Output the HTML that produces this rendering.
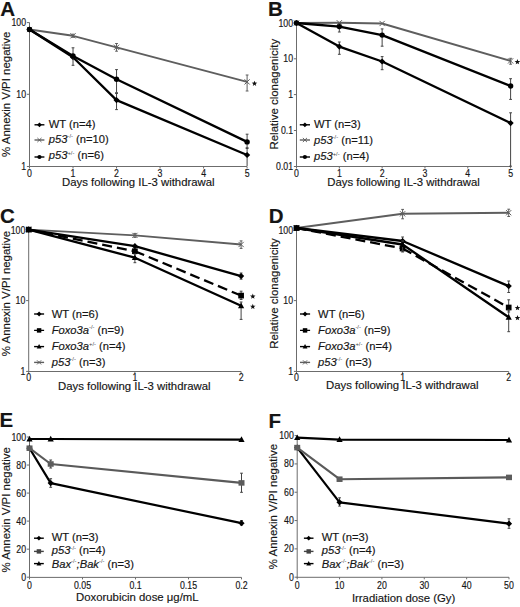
<!DOCTYPE html>
<html><head><meta charset="utf-8"><style>
html,body{margin:0;padding:0;background:#fff;width:520px;height:607px;overflow:hidden}
svg{display:block}
text{font-family:"Liberation Sans", sans-serif;fill:#151515;stroke:#151515;stroke-width:0.16px}
</style></head><body>
<svg width="520" height="607" viewBox="0 0 520 607">
<rect width="520" height="607" fill="#fff"/>
<text x="0.3" y="16" font-size="20.5" font-weight="bold">A</text>
<line x1="29.5" y1="22.5" x2="29.5" y2="167" stroke="#6c6c6c" stroke-width="1" />
<line x1="29" y1="166.5" x2="247.1" y2="166.5" stroke="#6c6c6c" stroke-width="1" />
<line x1="26.9" y1="22.6" x2="29.5" y2="22.6" stroke="#6c6c6c" stroke-width="1" />
<text transform="translate(26.1,26.1) scale(0.88,1)" font-size="10.0" text-anchor="end">100</text>
<line x1="26.9" y1="94.3" x2="29.5" y2="94.3" stroke="#6c6c6c" stroke-width="1" />
<text transform="translate(26.1,97.8) scale(0.88,1)" font-size="10.0" text-anchor="end">10</text>
<line x1="26.9" y1="166.5" x2="29.5" y2="166.5" stroke="#6c6c6c" stroke-width="1" />
<text transform="translate(26.1,170) scale(0.88,1)" font-size="10.0" text-anchor="end">1</text>
<line x1="29.5" y1="166.5" x2="29.5" y2="168.5" stroke="#6c6c6c" stroke-width="1" />
<text transform="translate(29.5,176.5) scale(0.88,1)" font-size="10.0" text-anchor="middle">0</text>
<line x1="73.02" y1="166.5" x2="73.02" y2="168.5" stroke="#6c6c6c" stroke-width="1" />
<text transform="translate(73.02,176.5) scale(0.88,1)" font-size="10.0" text-anchor="middle">1</text>
<line x1="116.54" y1="166.5" x2="116.54" y2="168.5" stroke="#6c6c6c" stroke-width="1" />
<text transform="translate(116.54,176.5) scale(0.88,1)" font-size="10.0" text-anchor="middle">2</text>
<line x1="160.06" y1="166.5" x2="160.06" y2="168.5" stroke="#6c6c6c" stroke-width="1" />
<text transform="translate(160.06,176.5) scale(0.88,1)" font-size="10.0" text-anchor="middle">3</text>
<line x1="203.58" y1="166.5" x2="203.58" y2="168.5" stroke="#6c6c6c" stroke-width="1" />
<text transform="translate(203.58,176.5) scale(0.88,1)" font-size="10.0" text-anchor="middle">4</text>
<line x1="247.1" y1="166.5" x2="247.1" y2="168.5" stroke="#6c6c6c" stroke-width="1" />
<text transform="translate(247.1,176.5) scale(0.88,1)" font-size="10.0" text-anchor="middle">5</text>
<text transform="translate(10.3,94.3) rotate(-90)" font-size="11.45" text-anchor="middle">% Annexin V/PI negative</text>
<text x="138.3" y="186" font-size="11.35" text-anchor="middle" >Days following IL-3 withdrawal</text>
<path d="M29.5 29.5 L73.02 35.8 L116.54 47.3 L247.1 81.9" fill="none" stroke="#5e5e5e" stroke-width="1.9" stroke-linejoin="round"/>
<line x1="73.02" y1="34.2" x2="73.02" y2="37.3" stroke="#5e5e5e" stroke-width="1" />
<line x1="71.62" y1="34.2" x2="74.42" y2="34.2" stroke="#5e5e5e" stroke-width="1" />
<line x1="71.62" y1="37.3" x2="74.42" y2="37.3" stroke="#5e5e5e" stroke-width="1" />
<line x1="116.54" y1="43.5" x2="116.54" y2="51.2" stroke="#5e5e5e" stroke-width="1" />
<line x1="115.14" y1="43.5" x2="117.94" y2="43.5" stroke="#5e5e5e" stroke-width="1" />
<line x1="115.14" y1="51.2" x2="117.94" y2="51.2" stroke="#5e5e5e" stroke-width="1" />
<line x1="247.1" y1="75" x2="247.1" y2="91" stroke="#5e5e5e" stroke-width="1" />
<line x1="245.7" y1="75" x2="248.5" y2="75" stroke="#5e5e5e" stroke-width="1" />
<line x1="245.7" y1="91" x2="248.5" y2="91" stroke="#5e5e5e" stroke-width="1" />
<path d="M26.9 26.9L32.1 32.1M32.1 26.9L26.9 32.1" stroke="#5e5e5e" stroke-width="1" fill="none"/>
<path d="M70.42 33.2L75.62 38.4M75.62 33.2L70.42 38.4" stroke="#5e5e5e" stroke-width="1" fill="none"/>
<path d="M113.94 44.7L119.14 49.9M119.14 44.7L113.94 49.9" stroke="#5e5e5e" stroke-width="1" fill="none"/>
<path d="M244.5 79.3L249.7 84.5M249.7 79.3L244.5 84.5" stroke="#5e5e5e" stroke-width="1" fill="none"/>
<path d="M29.5 29.5 L73.02 57.2 L116.54 100.1 L247.1 155" fill="none" stroke="#000" stroke-width="2.3" stroke-linejoin="round"/>
<line x1="116.54" y1="93.5" x2="116.54" y2="109.6" stroke="#444" stroke-width="1" />
<line x1="115.14" y1="93.5" x2="117.94" y2="93.5" stroke="#444" stroke-width="1" />
<line x1="115.14" y1="109.6" x2="117.94" y2="109.6" stroke="#444" stroke-width="1" />
<line x1="247.1" y1="148.5" x2="247.1" y2="166" stroke="#444" stroke-width="1" />
<line x1="245.7" y1="148.5" x2="248.5" y2="148.5" stroke="#444" stroke-width="1" />
<path d="M29.5 26.4L32.6 29.5L29.5 32.6L26.4 29.5Z" fill="#000"/>
<path d="M73.02 54.1L76.12 57.2L73.02 60.3L69.92 57.2Z" fill="#000"/>
<path d="M116.54 97L119.64 100.1L116.54 103.2L113.44 100.1Z" fill="#000"/>
<path d="M247.1 151.9L250.2 155L247.1 158.1L244 155Z" fill="#000"/>
<path d="M29.5 29.5 L73.02 56 L116.54 79.2 L247.1 141.9" fill="none" stroke="#000" stroke-width="2.3" stroke-linejoin="round"/>
<line x1="73.02" y1="47.8" x2="73.02" y2="65.3" stroke="#444" stroke-width="1" />
<line x1="71.62" y1="47.8" x2="74.42" y2="47.8" stroke="#444" stroke-width="1" />
<line x1="71.62" y1="65.3" x2="74.42" y2="65.3" stroke="#444" stroke-width="1" />
<line x1="116.54" y1="69.6" x2="116.54" y2="92.7" stroke="#444" stroke-width="1" />
<line x1="115.14" y1="69.6" x2="117.94" y2="69.6" stroke="#444" stroke-width="1" />
<line x1="115.14" y1="92.7" x2="117.94" y2="92.7" stroke="#444" stroke-width="1" />
<line x1="247.1" y1="134.2" x2="247.1" y2="147.7" stroke="#444" stroke-width="1" />
<line x1="245.7" y1="134.2" x2="248.5" y2="134.2" stroke="#444" stroke-width="1" />
<line x1="245.7" y1="147.7" x2="248.5" y2="147.7" stroke="#444" stroke-width="1" />
<circle cx="29.5" cy="29.5" r="2.7" fill="#000"/>
<circle cx="73.02" cy="56" r="2.7" fill="#000"/>
<circle cx="116.54" cy="79.2" r="2.7" fill="#000"/>
<circle cx="247.1" cy="141.9" r="2.7" fill="#000"/>
<polygon points="254.5,80.7 255.22,82.61 257.26,82.7 255.66,83.98 256.2,85.95 254.5,84.82 252.8,85.95 253.34,83.98 251.74,82.7 253.78,82.61" fill="#111"/>
<line x1="34.5" y1="124.8" x2="44.4" y2="124.8" stroke="#000" stroke-width="1.4"/>
<path d="M39.45 122.38L41.87 124.8L39.45 127.22L37.03 124.8Z" fill="#000"/>
<text x="48.8" y="127.8" font-size="11.2" text-anchor="start" >WT (n=4)</text>
<line x1="34.5" y1="140" x2="44.4" y2="140" stroke="#5e5e5e" stroke-width="1.4"/>
<path d="M37.42 137.97L41.48 142.03M41.48 137.97L37.42 142.03" stroke="#5e5e5e" stroke-width="1" fill="none"/>
<text x="48.8" y="142.6" font-size="11.2" text-anchor="start" ><tspan font-style="italic">p53</tspan><tspan font-size="5.8" dy="-4.6" style="stroke-width:0;fill:#444">-/-</tspan><tspan dy="4.6"> </tspan>(n=10)</text>
<line x1="34.5" y1="157" x2="44.4" y2="157" stroke="#000" stroke-width="1.4"/>
<circle cx="39.45" cy="157" r="2.11" fill="#000"/>
<text x="48.8" y="159.4" font-size="11.2" text-anchor="start" ><tspan font-style="italic">p53</tspan><tspan font-size="5.8" dy="-4.6" style="stroke-width:0;fill:#444">+/-</tspan><tspan dy="4.6"> </tspan>(n=6)</text>
<text x="268.1" y="16" font-size="20.5" font-weight="bold">B</text>
<line x1="296.5" y1="23" x2="296.5" y2="167" stroke="#6c6c6c" stroke-width="1" />
<line x1="296" y1="166.5" x2="510.6" y2="166.5" stroke="#6c6c6c" stroke-width="1" />
<line x1="293.9" y1="23" x2="296.5" y2="23" stroke="#6c6c6c" stroke-width="1" />
<text transform="translate(293.1,26.5) scale(0.88,1)" font-size="10.0" text-anchor="end">100</text>
<line x1="293.9" y1="58.8" x2="296.5" y2="58.8" stroke="#6c6c6c" stroke-width="1" />
<text transform="translate(293.1,62.3) scale(0.88,1)" font-size="10.0" text-anchor="end">10</text>
<line x1="293.9" y1="94.6" x2="296.5" y2="94.6" stroke="#6c6c6c" stroke-width="1" />
<text transform="translate(293.1,98.1) scale(0.88,1)" font-size="10.0" text-anchor="end">1</text>
<line x1="293.9" y1="130.5" x2="296.5" y2="130.5" stroke="#6c6c6c" stroke-width="1" />
<text transform="translate(293.1,134) scale(0.88,1)" font-size="10.0" text-anchor="end">0.1</text>
<line x1="293.9" y1="166.5" x2="296.5" y2="166.5" stroke="#6c6c6c" stroke-width="1" />
<text transform="translate(293.1,170) scale(0.88,1)" font-size="10.0" text-anchor="end">0.01</text>
<line x1="296.5" y1="166.5" x2="296.5" y2="168.5" stroke="#6c6c6c" stroke-width="1" />
<text transform="translate(296.5,176.7) scale(0.88,1)" font-size="10.0" text-anchor="middle">0</text>
<line x1="339.32" y1="166.5" x2="339.32" y2="168.5" stroke="#6c6c6c" stroke-width="1" />
<text transform="translate(339.32,176.7) scale(0.88,1)" font-size="10.0" text-anchor="middle">1</text>
<line x1="382.14" y1="166.5" x2="382.14" y2="168.5" stroke="#6c6c6c" stroke-width="1" />
<text transform="translate(382.14,176.7) scale(0.88,1)" font-size="10.0" text-anchor="middle">2</text>
<line x1="424.96" y1="166.5" x2="424.96" y2="168.5" stroke="#6c6c6c" stroke-width="1" />
<text transform="translate(424.96,176.7) scale(0.88,1)" font-size="10.0" text-anchor="middle">3</text>
<line x1="467.78" y1="166.5" x2="467.78" y2="168.5" stroke="#6c6c6c" stroke-width="1" />
<text transform="translate(467.78,176.7) scale(0.88,1)" font-size="10.0" text-anchor="middle">4</text>
<line x1="510.6" y1="166.5" x2="510.6" y2="168.5" stroke="#6c6c6c" stroke-width="1" />
<text transform="translate(510.6,176.7) scale(0.88,1)" font-size="10.0" text-anchor="middle">5</text>
<text transform="translate(277.6,94.2) rotate(-90)" font-size="11.45" text-anchor="middle">Relative clonagenicity</text>
<text x="403.6" y="186" font-size="11.35" text-anchor="middle" >Days following IL-3 withdrawal</text>
<path d="M296.5 23 L339.32 22.8 L382.14 23.5 L510.6 60.9" fill="none" stroke="#5e5e5e" stroke-width="1.9" stroke-linejoin="round"/>
<line x1="510.6" y1="58.3" x2="510.6" y2="64.2" stroke="#5e5e5e" stroke-width="1" />
<line x1="509.2" y1="58.3" x2="512" y2="58.3" stroke="#5e5e5e" stroke-width="1" />
<line x1="509.2" y1="64.2" x2="512" y2="64.2" stroke="#5e5e5e" stroke-width="1" />
<path d="M293.9 20.4L299.1 25.6M299.1 20.4L293.9 25.6" stroke="#5e5e5e" stroke-width="1" fill="none"/>
<path d="M336.72 20.2L341.92 25.4M341.92 20.2L336.72 25.4" stroke="#5e5e5e" stroke-width="1" fill="none"/>
<path d="M379.54 20.9L384.74 26.1M384.74 20.9L379.54 26.1" stroke="#5e5e5e" stroke-width="1" fill="none"/>
<path d="M508 58.3L513.2 63.5M513.2 58.3L508 63.5" stroke="#5e5e5e" stroke-width="1" fill="none"/>
<path d="M296.5 23 L339.32 26.6 L382.14 35.1 L510.6 86" fill="none" stroke="#000" stroke-width="2.3" stroke-linejoin="round"/>
<line x1="339.32" y1="23.5" x2="339.32" y2="32" stroke="#444" stroke-width="1" />
<line x1="337.92" y1="23.5" x2="340.72" y2="23.5" stroke="#444" stroke-width="1" />
<line x1="337.92" y1="32" x2="340.72" y2="32" stroke="#444" stroke-width="1" />
<line x1="382.14" y1="28.9" x2="382.14" y2="46.2" stroke="#444" stroke-width="1" />
<line x1="380.74" y1="28.9" x2="383.54" y2="28.9" stroke="#444" stroke-width="1" />
<line x1="380.74" y1="46.2" x2="383.54" y2="46.2" stroke="#444" stroke-width="1" />
<line x1="510.6" y1="78.7" x2="510.6" y2="99.4" stroke="#444" stroke-width="1" />
<line x1="509.2" y1="78.7" x2="512" y2="78.7" stroke="#444" stroke-width="1" />
<line x1="509.2" y1="99.4" x2="512" y2="99.4" stroke="#444" stroke-width="1" />
<circle cx="296.5" cy="23" r="2.7" fill="#000"/>
<circle cx="339.32" cy="26.6" r="2.7" fill="#000"/>
<circle cx="382.14" cy="35.1" r="2.7" fill="#000"/>
<circle cx="510.6" cy="86" r="2.7" fill="#000"/>
<path d="M296.5 23 L339.32 46.6 L382.14 61.5 L510.6 123.1" fill="none" stroke="#000" stroke-width="2.3" stroke-linejoin="round"/>
<line x1="339.32" y1="42" x2="339.32" y2="54.3" stroke="#444" stroke-width="1" />
<line x1="337.92" y1="42" x2="340.72" y2="42" stroke="#444" stroke-width="1" />
<line x1="337.92" y1="54.3" x2="340.72" y2="54.3" stroke="#444" stroke-width="1" />
<line x1="382.14" y1="56.6" x2="382.14" y2="69.7" stroke="#444" stroke-width="1" />
<line x1="380.74" y1="56.6" x2="383.54" y2="56.6" stroke="#444" stroke-width="1" />
<line x1="380.74" y1="69.7" x2="383.54" y2="69.7" stroke="#444" stroke-width="1" />
<line x1="510.6" y1="112.8" x2="510.6" y2="166.2" stroke="#444" stroke-width="1" />
<line x1="509.2" y1="112.8" x2="512" y2="112.8" stroke="#444" stroke-width="1" />
<line x1="509.2" y1="166.2" x2="512" y2="166.2" stroke="#444" stroke-width="1" />
<path d="M296.5 19.9L299.6 23L296.5 26.1L293.4 23Z" fill="#000"/>
<path d="M339.32 43.5L342.42 46.6L339.32 49.7L336.22 46.6Z" fill="#000"/>
<path d="M382.14 58.4L385.24 61.5L382.14 64.6L379.04 61.5Z" fill="#000"/>
<path d="M510.6 120L513.7 123.1L510.6 126.2L507.5 123.1Z" fill="#000"/>
<polygon points="517.4,59.1 518.12,61.01 520.16,61.1 518.56,62.38 519.1,64.35 517.4,63.22 515.7,64.35 516.24,62.38 514.64,61.1 516.68,61.01" fill="#111"/>
<line x1="299.8" y1="124.8" x2="310" y2="124.8" stroke="#000" stroke-width="1.4"/>
<path d="M304.9 122.38L307.32 124.8L304.9 127.22L302.48 124.8Z" fill="#000"/>
<text x="314" y="128" font-size="11.2" text-anchor="start" >WT (n=3)</text>
<line x1="299.8" y1="140" x2="310" y2="140" stroke="#5e5e5e" stroke-width="1.4"/>
<path d="M302.87 137.97L306.93 142.03M306.93 137.97L302.87 142.03" stroke="#5e5e5e" stroke-width="1" fill="none"/>
<text x="314" y="143.5" font-size="11.2" text-anchor="start" ><tspan font-style="italic">p53</tspan><tspan font-size="5.8" dy="-4.6" style="stroke-width:0;fill:#444">-/-</tspan><tspan dy="4.6"> </tspan>(n=11)</text>
<line x1="299.8" y1="157" x2="310" y2="157" stroke="#000" stroke-width="1.4"/>
<circle cx="304.9" cy="157" r="2.11" fill="#000"/>
<text x="314" y="160.3" font-size="11.2" text-anchor="start" ><tspan font-style="italic">p53</tspan><tspan font-size="5.8" dy="-4.6" style="stroke-width:0;fill:#444">+/-</tspan><tspan dy="4.6"> </tspan>(n=4)</text>
<text x="0" y="222.8" font-size="20.5" font-weight="bold">C</text>
<line x1="28.7" y1="229.5" x2="28.7" y2="372" stroke="#6c6c6c" stroke-width="1" />
<line x1="28.2" y1="371.5" x2="241.1" y2="371.5" stroke="#6c6c6c" stroke-width="1" />
<line x1="26.1" y1="230.3" x2="28.7" y2="230.3" stroke="#6c6c6c" stroke-width="1" />
<text transform="translate(25.3,233.8) scale(0.88,1)" font-size="10.0" text-anchor="end">100</text>
<line x1="26.1" y1="300.6" x2="28.7" y2="300.6" stroke="#6c6c6c" stroke-width="1" />
<text transform="translate(25.3,304.1) scale(0.88,1)" font-size="10.0" text-anchor="end">10</text>
<line x1="26.1" y1="371.4" x2="28.7" y2="371.4" stroke="#6c6c6c" stroke-width="1" />
<text transform="translate(25.3,374.9) scale(0.88,1)" font-size="10.0" text-anchor="end">1</text>
<line x1="28.7" y1="371.5" x2="28.7" y2="373.5" stroke="#6c6c6c" stroke-width="1" />
<text transform="translate(28.7,380.8) scale(0.88,1)" font-size="10.0" text-anchor="middle">0</text>
<line x1="134.9" y1="371.5" x2="134.9" y2="373.5" stroke="#6c6c6c" stroke-width="1" />
<text transform="translate(134.9,380.8) scale(0.88,1)" font-size="10.0" text-anchor="middle">1</text>
<line x1="241.1" y1="371.5" x2="241.1" y2="373.5" stroke="#6c6c6c" stroke-width="1" />
<text transform="translate(241.1,380.8) scale(0.88,1)" font-size="10.0" text-anchor="middle">2</text>
<text transform="translate(10.4,293.5) rotate(-90)" font-size="11.45" text-anchor="middle">% Annexin V/PI negative</text>
<text x="134.3" y="389.6" font-size="11.35" text-anchor="middle" >Days following IL-3 withdrawal</text>
<path d="M28.7 229.6 L134.9 235.4 L241.1 244.5" fill="none" stroke="#5e5e5e" stroke-width="1.9" stroke-linejoin="round"/>
<line x1="134.9" y1="233.4" x2="134.9" y2="237.4" stroke="#5e5e5e" stroke-width="1" />
<line x1="133.5" y1="233.4" x2="136.3" y2="233.4" stroke="#5e5e5e" stroke-width="1" />
<line x1="133.5" y1="237.4" x2="136.3" y2="237.4" stroke="#5e5e5e" stroke-width="1" />
<line x1="241.1" y1="240.9" x2="241.1" y2="248.4" stroke="#5e5e5e" stroke-width="1" />
<line x1="239.7" y1="240.9" x2="242.5" y2="240.9" stroke="#5e5e5e" stroke-width="1" />
<line x1="239.7" y1="248.4" x2="242.5" y2="248.4" stroke="#5e5e5e" stroke-width="1" />
<path d="M26.1 227L31.3 232.2M31.3 227L26.1 232.2" stroke="#5e5e5e" stroke-width="1" fill="none"/>
<path d="M132.3 232.8L137.5 238M137.5 232.8L132.3 238" stroke="#5e5e5e" stroke-width="1" fill="none"/>
<path d="M238.5 241.9L243.7 247.1M243.7 241.9L238.5 247.1" stroke="#5e5e5e" stroke-width="1" fill="none"/>
<path d="M28.7 229.6 L134.9 246.2 L241.1 276.1" fill="none" stroke="#000" stroke-width="2.3" stroke-linejoin="round"/>
<line x1="241.1" y1="273" x2="241.1" y2="279.2" stroke="#444" stroke-width="1" />
<line x1="239.7" y1="273" x2="242.5" y2="273" stroke="#444" stroke-width="1" />
<line x1="239.7" y1="279.2" x2="242.5" y2="279.2" stroke="#444" stroke-width="1" />
<path d="M28.7 226.5L31.8 229.6L28.7 232.7L25.6 229.6Z" fill="#000"/>
<path d="M134.9 243.1L138 246.2L134.9 249.3L131.8 246.2Z" fill="#000"/>
<path d="M241.1 273L244.2 276.1L241.1 279.2L238 276.1Z" fill="#000"/>
<path d="M28.7 229.6 L134.9 251.2" fill="none" stroke="#000" stroke-width="2.3" stroke-dasharray="10 5"/>
<path d="M134.9 251.2 L241.1 295.6" fill="none" stroke="#000" stroke-width="2.3" stroke-dasharray="10 5"/>
<line x1="241.1" y1="291.2" x2="241.1" y2="299.5" stroke="#444" stroke-width="1" />
<line x1="239.7" y1="291.2" x2="242.5" y2="291.2" stroke="#444" stroke-width="1" />
<line x1="239.7" y1="299.5" x2="242.5" y2="299.5" stroke="#444" stroke-width="1" />
<rect x="25.85" y="226.75" width="5.7" height="5.7" fill="#000"/>
<rect x="132.05" y="248.35" width="5.7" height="5.7" fill="#000"/>
<rect x="238.25" y="292.75" width="5.7" height="5.7" fill="#000"/>
<path d="M28.7 229.6 L134.9 257.7 L241.1 305.8" fill="none" stroke="#000" stroke-width="2.3" stroke-linejoin="round"/>
<line x1="134.9" y1="254" x2="134.9" y2="262.7" stroke="#444" stroke-width="1" />
<line x1="133.5" y1="254" x2="136.3" y2="254" stroke="#444" stroke-width="1" />
<line x1="133.5" y1="262.7" x2="136.3" y2="262.7" stroke="#444" stroke-width="1" />
<line x1="241.1" y1="302" x2="241.1" y2="319.4" stroke="#444" stroke-width="1" />
<line x1="239.7" y1="302" x2="242.5" y2="302" stroke="#444" stroke-width="1" />
<line x1="239.7" y1="319.4" x2="242.5" y2="319.4" stroke="#444" stroke-width="1" />
<path d="M28.7 226.3L31.8 232L25.6 232Z" fill="#000"/>
<path d="M134.9 254.4L138 260.1L131.8 260.1Z" fill="#000"/>
<path d="M241.1 302.5L244.2 308.2L238 308.2Z" fill="#000"/>
<polygon points="252.8,293.6 253.52,295.51 255.56,295.6 253.96,296.88 254.5,298.85 252.8,297.72 251.1,298.85 251.64,296.88 250.04,295.6 252.08,295.51" fill="#111"/>
<polygon points="252.8,303.8 253.52,305.71 255.56,305.8 253.96,307.08 254.5,309.05 252.8,307.92 251.1,309.05 251.64,307.08 250.04,305.8 252.08,305.71" fill="#111"/>
<line x1="34.1" y1="314" x2="44.1" y2="314" stroke="#000" stroke-width="1.4"/>
<path d="M39.1 311.58L41.52 314L39.1 316.42L36.68 314Z" fill="#000"/>
<text x="51.7" y="317.5" font-size="11.2" text-anchor="start" >WT (n=6)</text>
<line x1="34.1" y1="330.4" x2="44.1" y2="330.4" stroke="#000" stroke-width="1.4" stroke-dasharray="4.5 1.5"/>
<rect x="36.88" y="328.18" width="4.45" height="4.45" fill="#000"/>
<text x="51.7" y="333.5" font-size="11.2" text-anchor="start" ><tspan font-style="italic">Foxo3a</tspan><tspan font-size="5.8" dy="-4.6" style="stroke-width:0;fill:#444">-/-</tspan><tspan dy="4.6"> </tspan>(n=9)</text>
<line x1="34.1" y1="346.6" x2="44.1" y2="346.6" stroke="#000" stroke-width="1.4"/>
<path d="M39.1 344.03L41.52 348.47L36.68 348.47Z" fill="#000"/>
<text x="51.7" y="350.2" font-size="11.2" text-anchor="start" ><tspan font-style="italic">Foxo3a</tspan><tspan font-size="5.8" dy="-4.6" style="stroke-width:0;fill:#444">+/-</tspan><tspan dy="4.6"> </tspan>(n=4)</text>
<line x1="34.1" y1="362.4" x2="44.1" y2="362.4" stroke="#5e5e5e" stroke-width="1.4"/>
<path d="M37.07 360.37L41.13 364.43M41.13 360.37L37.07 364.43" stroke="#5e5e5e" stroke-width="1" fill="none"/>
<text x="51.7" y="365.6" font-size="11.2" text-anchor="start" ><tspan font-style="italic">p53</tspan><tspan font-size="5.8" dy="-4.6" style="stroke-width:0;fill:#444">-/-</tspan><tspan dy="4.6"> </tspan>(n=3)</text>
<text x="268.7" y="223" font-size="20.5" font-weight="bold">D</text>
<line x1="296.5" y1="229.5" x2="296.5" y2="372" stroke="#6c6c6c" stroke-width="1" />
<line x1="296" y1="371.5" x2="508.7" y2="371.5" stroke="#6c6c6c" stroke-width="1" />
<line x1="293.9" y1="230.3" x2="296.5" y2="230.3" stroke="#6c6c6c" stroke-width="1" />
<text transform="translate(293.1,233.8) scale(0.88,1)" font-size="10.0" text-anchor="end">100</text>
<line x1="293.9" y1="300.6" x2="296.5" y2="300.6" stroke="#6c6c6c" stroke-width="1" />
<text transform="translate(293.1,304.1) scale(0.88,1)" font-size="10.0" text-anchor="end">10</text>
<line x1="293.9" y1="371.4" x2="296.5" y2="371.4" stroke="#6c6c6c" stroke-width="1" />
<text transform="translate(293.1,374.9) scale(0.88,1)" font-size="10.0" text-anchor="end">1</text>
<line x1="296.5" y1="371.5" x2="296.5" y2="373.5" stroke="#6c6c6c" stroke-width="1" />
<text transform="translate(296.5,380.8) scale(0.88,1)" font-size="10.0" text-anchor="middle">0</text>
<line x1="402.6" y1="371.5" x2="402.6" y2="373.5" stroke="#6c6c6c" stroke-width="1" />
<text transform="translate(402.6,380.8) scale(0.88,1)" font-size="10.0" text-anchor="middle">1</text>
<line x1="508.7" y1="371.5" x2="508.7" y2="373.5" stroke="#6c6c6c" stroke-width="1" />
<text transform="translate(508.7,380.8) scale(0.88,1)" font-size="10.0" text-anchor="middle">2</text>
<text transform="translate(277.6,293.5) rotate(-90)" font-size="11.45" text-anchor="middle">Relative clonagenicity</text>
<text x="402.3" y="389.3" font-size="11.35" text-anchor="middle" >Days following IL-3 withdrawal</text>
<path d="M296.5 228 L402.6 213.8 L508.7 212.7" fill="none" stroke="#5e5e5e" stroke-width="1.9" stroke-linejoin="round"/>
<line x1="402.6" y1="209.4" x2="402.6" y2="218.8" stroke="#5e5e5e" stroke-width="1" />
<line x1="401.2" y1="209.4" x2="404" y2="209.4" stroke="#5e5e5e" stroke-width="1" />
<line x1="401.2" y1="218.8" x2="404" y2="218.8" stroke="#5e5e5e" stroke-width="1" />
<line x1="508.7" y1="209.2" x2="508.7" y2="216.5" stroke="#5e5e5e" stroke-width="1" />
<line x1="507.3" y1="209.2" x2="510.1" y2="209.2" stroke="#5e5e5e" stroke-width="1" />
<line x1="507.3" y1="216.5" x2="510.1" y2="216.5" stroke="#5e5e5e" stroke-width="1" />
<path d="M293.9 225.4L299.1 230.6M299.1 225.4L293.9 230.6" stroke="#5e5e5e" stroke-width="1" fill="none"/>
<path d="M400 211.2L405.2 216.4M405.2 211.2L400 216.4" stroke="#5e5e5e" stroke-width="1" fill="none"/>
<path d="M506.1 210.1L511.3 215.3M511.3 210.1L506.1 215.3" stroke="#5e5e5e" stroke-width="1" fill="none"/>
<path d="M296.5 228 L402.6 241 L508.7 286.1" fill="none" stroke="#000" stroke-width="2.3" stroke-linejoin="round"/>
<line x1="402.6" y1="237" x2="402.6" y2="245" stroke="#444" stroke-width="1" />
<line x1="401.2" y1="237" x2="404" y2="237" stroke="#444" stroke-width="1" />
<line x1="401.2" y1="245" x2="404" y2="245" stroke="#444" stroke-width="1" />
<line x1="508.7" y1="281" x2="508.7" y2="292.5" stroke="#444" stroke-width="1" />
<line x1="507.3" y1="281" x2="510.1" y2="281" stroke="#444" stroke-width="1" />
<line x1="507.3" y1="292.5" x2="510.1" y2="292.5" stroke="#444" stroke-width="1" />
<path d="M296.5 224.9L299.6 228L296.5 231.1L293.4 228Z" fill="#000"/>
<path d="M402.6 237.9L405.7 241L402.6 244.1L399.5 241Z" fill="#000"/>
<path d="M508.7 283L511.8 286.1L508.7 289.2L505.6 286.1Z" fill="#000"/>
<path d="M296.5 228 L402.6 248.5" fill="none" stroke="#000" stroke-width="2.3" stroke-dasharray="10 5"/>
<path d="M402.6 248.5 L508.7 307.5" fill="none" stroke="#000" stroke-width="2.3" stroke-dasharray="10 5"/>
<line x1="402.6" y1="244" x2="402.6" y2="252" stroke="#444" stroke-width="1" />
<line x1="401.2" y1="244" x2="404" y2="244" stroke="#444" stroke-width="1" />
<line x1="401.2" y1="252" x2="404" y2="252" stroke="#444" stroke-width="1" />
<line x1="508.7" y1="299.8" x2="508.7" y2="312" stroke="#444" stroke-width="1" />
<line x1="507.3" y1="299.8" x2="510.1" y2="299.8" stroke="#444" stroke-width="1" />
<line x1="507.3" y1="312" x2="510.1" y2="312" stroke="#444" stroke-width="1" />
<rect x="293.65" y="225.15" width="5.7" height="5.7" fill="#000"/>
<rect x="399.75" y="245.65" width="5.7" height="5.7" fill="#000"/>
<rect x="505.85" y="304.65" width="5.7" height="5.7" fill="#000"/>
<path d="M296.5 228 L402.6 244.5 L508.7 317.3" fill="none" stroke="#000" stroke-width="2.3" stroke-linejoin="round"/>
<line x1="402.6" y1="241" x2="402.6" y2="250.9" stroke="#444" stroke-width="1" />
<line x1="401.2" y1="241" x2="404" y2="241" stroke="#444" stroke-width="1" />
<line x1="401.2" y1="250.9" x2="404" y2="250.9" stroke="#444" stroke-width="1" />
<line x1="508.7" y1="310" x2="508.7" y2="331.7" stroke="#444" stroke-width="1" />
<line x1="507.3" y1="310" x2="510.1" y2="310" stroke="#444" stroke-width="1" />
<line x1="507.3" y1="331.7" x2="510.1" y2="331.7" stroke="#444" stroke-width="1" />
<path d="M296.5 224.7L299.6 230.4L293.4 230.4Z" fill="#000"/>
<path d="M402.6 241.2L405.7 246.9L399.5 246.9Z" fill="#000"/>
<path d="M508.7 314L511.8 319.7L505.6 319.7Z" fill="#000"/>
<polygon points="517.5,305.1 518.22,307.01 520.26,307.1 518.66,308.38 519.2,310.35 517.5,309.22 515.8,310.35 516.34,308.38 514.74,307.1 516.78,307.01" fill="#111"/>
<polygon points="517.5,315.1 518.22,317.01 520.26,317.1 518.66,318.38 519.2,320.35 517.5,319.22 515.8,320.35 516.34,318.38 514.74,317.1 516.78,317.01" fill="#111"/>
<line x1="300" y1="314" x2="310.1" y2="314" stroke="#000" stroke-width="1.4"/>
<path d="M305.05 311.58L307.47 314L305.05 316.42L302.63 314Z" fill="#000"/>
<text x="318.1" y="317.5" font-size="11.2" text-anchor="start" >WT (n=6)</text>
<line x1="300" y1="330.4" x2="310.1" y2="330.4" stroke="#000" stroke-width="1.4" stroke-dasharray="4.5 1.5"/>
<rect x="302.83" y="328.18" width="4.45" height="4.45" fill="#000"/>
<text x="318.1" y="333.5" font-size="11.2" text-anchor="start" ><tspan font-style="italic">Foxo3a</tspan><tspan font-size="5.8" dy="-4.6" style="stroke-width:0;fill:#444">-/-</tspan><tspan dy="4.6"> </tspan>(n=9)</text>
<line x1="300" y1="346.6" x2="310.1" y2="346.6" stroke="#000" stroke-width="1.4"/>
<path d="M305.05 344.03L307.47 348.47L302.63 348.47Z" fill="#000"/>
<text x="318.1" y="350.2" font-size="11.2" text-anchor="start" ><tspan font-style="italic">Foxo3a</tspan><tspan font-size="5.8" dy="-4.6" style="stroke-width:0;fill:#444">+/-</tspan><tspan dy="4.6"> </tspan>(n=4)</text>
<line x1="300" y1="362.4" x2="310.1" y2="362.4" stroke="#5e5e5e" stroke-width="1.4"/>
<path d="M303.02 360.37L307.08 364.43M307.08 360.37L303.02 364.43" stroke="#5e5e5e" stroke-width="1" fill="none"/>
<text x="318.1" y="365.6" font-size="11.2" text-anchor="start" ><tspan font-style="italic">p53</tspan><tspan font-size="5.8" dy="-4.6" style="stroke-width:0;fill:#444">-/-</tspan><tspan dy="4.6"> </tspan>(n=3)</text>
<text x="-0.6" y="426.5" font-size="20.5" font-weight="bold">E</text>
<line x1="29.5" y1="437" x2="29.5" y2="577.9" stroke="#6c6c6c" stroke-width="1" />
<line x1="29" y1="577.4" x2="241.5" y2="577.4" stroke="#6c6c6c" stroke-width="1" />
<line x1="26.9" y1="437" x2="29.5" y2="437" stroke="#6c6c6c" stroke-width="1" />
<text transform="translate(26.1,440.5) scale(0.88,1)" font-size="10.0" text-anchor="end">100</text>
<line x1="26.9" y1="465.04" x2="29.5" y2="465.04" stroke="#6c6c6c" stroke-width="1" />
<text transform="translate(26.1,468.54) scale(0.88,1)" font-size="10.0" text-anchor="end">80</text>
<line x1="26.9" y1="493.08" x2="29.5" y2="493.08" stroke="#6c6c6c" stroke-width="1" />
<text transform="translate(26.1,496.58) scale(0.88,1)" font-size="10.0" text-anchor="end">60</text>
<line x1="26.9" y1="521.12" x2="29.5" y2="521.12" stroke="#6c6c6c" stroke-width="1" />
<text transform="translate(26.1,524.62) scale(0.88,1)" font-size="10.0" text-anchor="end">40</text>
<line x1="26.9" y1="549.16" x2="29.5" y2="549.16" stroke="#6c6c6c" stroke-width="1" />
<text transform="translate(26.1,552.66) scale(0.88,1)" font-size="10.0" text-anchor="end">20</text>
<line x1="26.9" y1="577.2" x2="29.5" y2="577.2" stroke="#6c6c6c" stroke-width="1" />
<text transform="translate(26.1,580.7) scale(0.88,1)" font-size="10.0" text-anchor="end">0</text>
<line x1="29.5" y1="577.4" x2="29.5" y2="579.4" stroke="#6c6c6c" stroke-width="1" />
<text transform="translate(29.5,588.8) scale(0.88,1)" font-size="10.0" text-anchor="middle">0</text>
<line x1="82.5" y1="577.4" x2="82.5" y2="579.4" stroke="#6c6c6c" stroke-width="1" />
<text transform="translate(82.5,588.8) scale(0.88,1)" font-size="10.0" text-anchor="middle">0.05</text>
<line x1="135.5" y1="577.4" x2="135.5" y2="579.4" stroke="#6c6c6c" stroke-width="1" />
<text transform="translate(135.5,588.8) scale(0.88,1)" font-size="10.0" text-anchor="middle">0.1</text>
<line x1="188.5" y1="577.4" x2="188.5" y2="579.4" stroke="#6c6c6c" stroke-width="1" />
<text transform="translate(188.5,588.8) scale(0.88,1)" font-size="10.0" text-anchor="middle">0.15</text>
<line x1="241.5" y1="577.4" x2="241.5" y2="579.4" stroke="#6c6c6c" stroke-width="1" />
<text transform="translate(241.5,588.8) scale(0.88,1)" font-size="10.0" text-anchor="middle">0.2</text>
<text transform="translate(10.3,509.8) rotate(-90)" font-size="11.45" text-anchor="middle">% Annexin V/PI negative</text>
<text x="137.3" y="601.4" font-size="11.35" text-anchor="middle" >Doxorubicin dose μg/mL</text>
<path d="M29.5 448.2 L50.7 483.1 L241.5 523.2" fill="none" stroke="#000" stroke-width="2.2" stroke-linejoin="round"/>
<line x1="50.7" y1="478.7" x2="50.7" y2="487.3" stroke="#444" stroke-width="1" />
<line x1="49.3" y1="478.7" x2="52.1" y2="478.7" stroke="#444" stroke-width="1" />
<line x1="49.3" y1="487.3" x2="52.1" y2="487.3" stroke="#444" stroke-width="1" />
<line x1="241.5" y1="520.5" x2="241.5" y2="525" stroke="#444" stroke-width="1" />
<line x1="240.1" y1="520.5" x2="242.9" y2="520.5" stroke="#444" stroke-width="1" />
<line x1="240.1" y1="525" x2="242.9" y2="525" stroke="#444" stroke-width="1" />
<path d="M29.5 445.1L32.6 448.2L29.5 451.3L26.4 448.2Z" fill="#000"/>
<path d="M50.7 480L53.8 483.1L50.7 486.2L47.6 483.1Z" fill="#000"/>
<path d="M241.5 520.1L244.6 523.2L241.5 526.3L238.4 523.2Z" fill="#000"/>
<path d="M29.5 448.2 L50.7 464 L241.5 482.9" fill="none" stroke="#5a5a5a" stroke-width="2.1" stroke-linejoin="round"/>
<line x1="50.7" y1="460" x2="50.7" y2="468" stroke="#444" stroke-width="1" />
<line x1="49.3" y1="460" x2="52.1" y2="460" stroke="#444" stroke-width="1" />
<line x1="49.3" y1="468" x2="52.1" y2="468" stroke="#444" stroke-width="1" />
<line x1="241.5" y1="473.2" x2="241.5" y2="492.3" stroke="#444" stroke-width="1" />
<line x1="240.1" y1="473.2" x2="242.9" y2="473.2" stroke="#444" stroke-width="1" />
<line x1="240.1" y1="492.3" x2="242.9" y2="492.3" stroke="#444" stroke-width="1" />
<rect x="26.5" y="445.44" width="6" height="5.52" fill="#5c5c5c"/>
<rect x="47.7" y="461.24" width="6" height="5.52" fill="#5c5c5c"/>
<rect x="238.5" y="480.14" width="6" height="5.52" fill="#5c5c5c"/>
<path d="M29.5 439 L50.7 439 L241.5 439.6" fill="none" stroke="#000" stroke-width="2.2" stroke-linejoin="round"/>
<path d="M29.5 435.7L32.6 441.4L26.4 441.4Z" fill="#000"/>
<path d="M50.7 435.7L53.8 441.4L47.6 441.4Z" fill="#000"/>
<path d="M241.5 436.3L244.6 442L238.4 442Z" fill="#000"/>
<line x1="34" y1="538.2" x2="43.8" y2="538.2" stroke="#000" stroke-width="1.4"/>
<path d="M38.9 535.78L41.32 538.2L38.9 540.62L36.48 538.2Z" fill="#000"/>
<text x="51.8" y="540.7" font-size="11.2" text-anchor="start" >WT (n=3)</text>
<line x1="34" y1="551.4" x2="43.8" y2="551.4" stroke="#444" stroke-width="1.4"/>
<rect x="36.68" y="549.18" width="4.45" height="4.45" fill="#444"/>
<text x="51.8" y="554.4" font-size="11.2" text-anchor="start" ><tspan font-style="italic">p53</tspan><tspan font-size="5.8" dy="-4.6" style="stroke-width:0;fill:#444">-/-</tspan><tspan dy="4.6"> </tspan>(n=4)</text>
<line x1="34" y1="563.6" x2="43.8" y2="563.6" stroke="#000" stroke-width="1.4"/>
<path d="M38.9 561.03L41.32 565.47L36.48 565.47Z" fill="#000"/>
<text x="51.8" y="567.8" font-size="11.2" text-anchor="start" ><tspan font-style="italic">Bax</tspan><tspan font-size="5.8" dy="-4.6" style="stroke-width:0;fill:#444">-/-</tspan><tspan font-style="italic" dy="4.6">;Bak</tspan><tspan font-size="5.8" dy="-4.6" style="stroke-width:0;fill:#444">-/-</tspan><tspan dy="4.6"> </tspan>(n=3)</text>
<text x="268.5" y="427.5" font-size="20.5" font-weight="bold">F</text>
<line x1="297.2" y1="435.3" x2="297.2" y2="577.8" stroke="#6c6c6c" stroke-width="1" />
<line x1="296.7" y1="577.3" x2="509" y2="577.3" stroke="#6c6c6c" stroke-width="1" />
<line x1="294.6" y1="435.6" x2="297.2" y2="435.6" stroke="#6c6c6c" stroke-width="1" />
<text transform="translate(293.8,439.1) scale(0.88,1)" font-size="10.0" text-anchor="end">100</text>
<line x1="294.6" y1="463.92" x2="297.2" y2="463.92" stroke="#6c6c6c" stroke-width="1" />
<text transform="translate(293.8,467.42) scale(0.88,1)" font-size="10.0" text-anchor="end">80</text>
<line x1="294.6" y1="492.24" x2="297.2" y2="492.24" stroke="#6c6c6c" stroke-width="1" />
<text transform="translate(293.8,495.74) scale(0.88,1)" font-size="10.0" text-anchor="end">60</text>
<line x1="294.6" y1="520.56" x2="297.2" y2="520.56" stroke="#6c6c6c" stroke-width="1" />
<text transform="translate(293.8,524.06) scale(0.88,1)" font-size="10.0" text-anchor="end">40</text>
<line x1="294.6" y1="548.88" x2="297.2" y2="548.88" stroke="#6c6c6c" stroke-width="1" />
<text transform="translate(293.8,552.38) scale(0.88,1)" font-size="10.0" text-anchor="end">20</text>
<line x1="294.6" y1="577.2" x2="297.2" y2="577.2" stroke="#6c6c6c" stroke-width="1" />
<text transform="translate(293.8,580.7) scale(0.88,1)" font-size="10.0" text-anchor="end">0</text>
<line x1="297.2" y1="577.3" x2="297.2" y2="579.3" stroke="#6c6c6c" stroke-width="1" />
<text transform="translate(297.2,588.8) scale(0.88,1)" font-size="10.0" text-anchor="middle">0</text>
<line x1="339.56" y1="577.3" x2="339.56" y2="579.3" stroke="#6c6c6c" stroke-width="1" />
<text transform="translate(339.56,588.8) scale(0.88,1)" font-size="10.0" text-anchor="middle">10</text>
<line x1="381.92" y1="577.3" x2="381.92" y2="579.3" stroke="#6c6c6c" stroke-width="1" />
<text transform="translate(381.92,588.8) scale(0.88,1)" font-size="10.0" text-anchor="middle">20</text>
<line x1="424.28" y1="577.3" x2="424.28" y2="579.3" stroke="#6c6c6c" stroke-width="1" />
<text transform="translate(424.28,588.8) scale(0.88,1)" font-size="10.0" text-anchor="middle">30</text>
<line x1="466.64" y1="577.3" x2="466.64" y2="579.3" stroke="#6c6c6c" stroke-width="1" />
<text transform="translate(466.64,588.8) scale(0.88,1)" font-size="10.0" text-anchor="middle">40</text>
<line x1="509" y1="577.3" x2="509" y2="579.3" stroke="#6c6c6c" stroke-width="1" />
<text transform="translate(509,588.8) scale(0.88,1)" font-size="10.0" text-anchor="middle">50</text>
<text transform="translate(277.3,506.5) rotate(-90)" font-size="11.45" text-anchor="middle">% Annexin V/PI negative</text>
<text x="403.6" y="602.3" font-size="11.35" text-anchor="middle" >Irradiation dose (Gy)</text>
<path d="M297.2 447.6 L339.56 502.3 L509 523.7" fill="none" stroke="#000" stroke-width="2.2" stroke-linejoin="round"/>
<line x1="339.56" y1="497.8" x2="339.56" y2="506.1" stroke="#444" stroke-width="1" />
<line x1="338.16" y1="497.8" x2="340.96" y2="497.8" stroke="#444" stroke-width="1" />
<line x1="338.16" y1="506.1" x2="340.96" y2="506.1" stroke="#444" stroke-width="1" />
<line x1="509" y1="518.8" x2="509" y2="528.3" stroke="#444" stroke-width="1" />
<line x1="507.6" y1="518.8" x2="510.4" y2="518.8" stroke="#444" stroke-width="1" />
<line x1="507.6" y1="528.3" x2="510.4" y2="528.3" stroke="#444" stroke-width="1" />
<path d="M297.2 444.5L300.3 447.6L297.2 450.7L294.1 447.6Z" fill="#000"/>
<path d="M339.56 499.2L342.66 502.3L339.56 505.4L336.46 502.3Z" fill="#000"/>
<path d="M509 520.6L512.1 523.7L509 526.8L505.9 523.7Z" fill="#000"/>
<path d="M297.2 447.6 L339.56 479.2 L509 477.4" fill="none" stroke="#5a5a5a" stroke-width="2.1" stroke-linejoin="round"/>
<rect x="294.2" y="444.84" width="6" height="5.52" fill="#5c5c5c"/>
<rect x="336.56" y="476.44" width="6" height="5.52" fill="#5c5c5c"/>
<rect x="506" y="474.64" width="6" height="5.52" fill="#5c5c5c"/>
<path d="M297.2 437.7 L339.56 439.6 L509 440" fill="none" stroke="#000" stroke-width="2.2" stroke-linejoin="round"/>
<path d="M297.2 434.4L300.3 440.1L294.1 440.1Z" fill="#000"/>
<path d="M339.56 436.3L342.66 442L336.46 442Z" fill="#000"/>
<path d="M509 436.7L512.1 442.4L505.9 442.4Z" fill="#000"/>
<line x1="303.9" y1="538.2" x2="313.5" y2="538.2" stroke="#000" stroke-width="1.4"/>
<path d="M308.7 535.78L311.12 538.2L308.7 540.62L306.28 538.2Z" fill="#000"/>
<text x="321.7" y="540.7" font-size="11.2" text-anchor="start" >WT (n=3)</text>
<line x1="303.9" y1="551.4" x2="313.5" y2="551.4" stroke="#444" stroke-width="1.4"/>
<rect x="306.48" y="549.18" width="4.45" height="4.45" fill="#444"/>
<text x="321.7" y="554.1" font-size="11.2" text-anchor="start" ><tspan font-style="italic">p53</tspan><tspan font-size="5.8" dy="-4.6" style="stroke-width:0;fill:#444">-/-</tspan><tspan dy="4.6"> </tspan>(n=4)</text>
<line x1="303.9" y1="563.6" x2="313.5" y2="563.6" stroke="#000" stroke-width="1.4"/>
<path d="M308.7 561.03L311.12 565.47L306.28 565.47Z" fill="#000"/>
<text x="321.7" y="567.8" font-size="11.2" text-anchor="start" ><tspan font-style="italic">Bax</tspan><tspan font-size="5.8" dy="-4.6" style="stroke-width:0;fill:#444">-/-</tspan><tspan font-style="italic" dy="4.6">;Bak</tspan><tspan font-size="5.8" dy="-4.6" style="stroke-width:0;fill:#444">-/-</tspan><tspan dy="4.6"> </tspan>(n=3)</text>
</svg>
</body></html>
